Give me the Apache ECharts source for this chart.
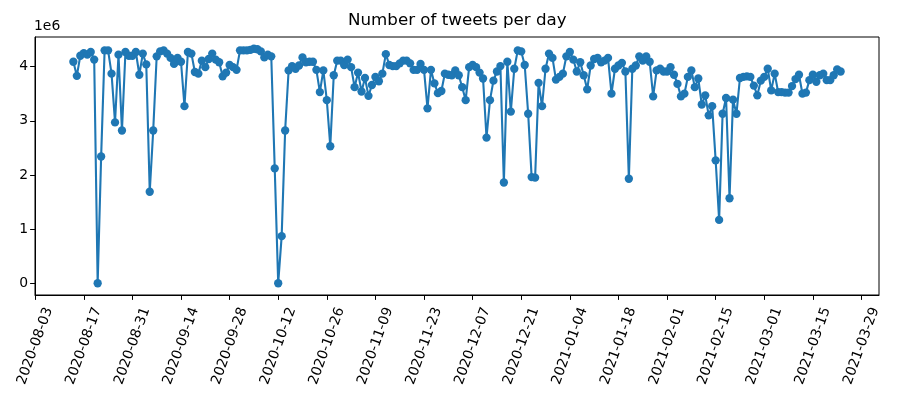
<!DOCTYPE html>
<html>
<head>
<meta charset="utf-8">
<script src="https://cdn.jsdelivr.net/npm/echarts@6/dist/echarts.min.js"></script>
<style>html,body{margin:0;padding:0;background:#fff}#c{width:900px;height:400px}</style>
</head>
<body>
<div id="c"></div>
<script>
// First data day and daily tweet counts (in millions, axis offset "1e6")
const firstDate = '2020-08-14';
const tweetsMillions = [
  4.09,3.83,4.20,4.25,4.22,4.27,4.13,0,2.34,4.30,
  4.30,3.87,2.97,4.22,2.82,4.27,4.20,4.20,4.27,3.85,
  4.24,4.04,1.69,2.82,4.19,4.28,4.30,4.24,4.16,4.05,
  4.16,4.09,3.27,4.27,4.24,3.90,3.87,4.11,3.99,4.14,
  4.24,4.13,4.08,3.82,3.89,4.03,3.99,3.94,4.30,4.30,
  4.30,4.31,4.33,4.32,4.28,4.17,4.22,4.19,2.12,0,
  0.87,2.82,3.93,4.01,3.96,4.02,4.17,4.08,4.09,4.09,
  3.94,3.53,3.93,3.38,2.53,3.84,4.11,4.11,4.03,4.13,
  3.99,3.62,3.89,3.54,3.79,3.46,3.66,3.81,3.73,3.87,
  4.23,4.03,4.01,4.01,4.06,4.11,4.11,4.06,3.94,3.94,
  4.05,3.94,3.23,3.94,3.69,3.51,3.55,3.87,3.85,3.84,
  3.93,3.84,3.62,3.38,3.99,4.03,3.99,3.89,3.78,2.69,
  3.38,3.74,3.91,4.01,1.86,4.09,3.17,3.96,4.30,4.28,
  4.03,3.13,1.96,1.95,3.70,3.27,3.96,4.24,4.16,3.76,
  3.81,3.87,4.19,4.27,4.13,3.91,4.08,3.84,3.58,4.02,
  4.14,4.16,4.08,4.11,4.16,3.50,3.96,4.02,4.07,3.91,
  1.93,3.96,4.02,4.19,4.11,4.19,4.09,3.45,3.93,3.96,
  3.91,3.91,3.99,3.85,3.68,3.45,3.50,3.81,3.93,3.62,
  3.78,3.30,3.47,3.10,3.27,2.27,1.17,3.13,3.42,1.57,
  3.39,3.13,3.79,3.81,3.82,3.81,3.65,3.47,3.74,3.81,
  3.96,3.56,3.87,3.53,3.53,3.52,3.52,3.64,3.77,3.85,
  3.50,3.52,3.75,3.85,3.72,3.84,3.87,3.75,3.75,3.84,
  3.95,3.91
];
const xTickLabels = ['2020-08-03','2020-08-17','2020-08-31','2020-09-14','2020-09-28','2020-10-12',
  '2020-10-26','2020-11-09','2020-11-23','2020-12-07','2020-12-21','2021-01-04','2021-01-18',
  '2021-02-01','2021-02-15','2021-03-01','2021-03-15','2021-03-29'];
const yTickLabels = [0,1,2,3,4];

const DAY = 86400000;
const ms = s => Date.parse(s + 'T00:00:00Z');
const origin = ms(xTickLabels[0]);
const toDay = s => (ms(s) - origin) / DAY;
const dayToLabel = d => new Date(origin + Math.round(d) * DAY).toISOString().slice(0, 10);
const d0 = toDay(firstDate);
const seriesData = tweetsMillions.map((v, i) => [d0 + i, v]);
const xTicks = xTickLabels.map(toDay);

const xFirst = d0, xLast = d0 + tweetsMillions.length - 1;
const xPad = 0.05 * (xLast - xFirst);
const yMinV = Math.min(...tweetsMillions), yMaxV = Math.max(...tweetsMillions);
const yPad = 0.05 * (yMaxV - yMinV);

const FONT = 'DejaVu Sans';
const chart = echarts.init(document.getElementById('c'), null, {renderer: 'canvas'});
chart.setOption({
  animation: false,
  backgroundColor: '#fff',
  title: {
    text: 'Number of tweets per day',
    left: 348, top: 12, padding: 0,
    textStyle: {fontFamily: FONT, fontSize: 16.7, fontWeight: 'normal', color: '#000'}
  },
  grid: {left: 35, right: 21, top: 37, bottom: 105, show: true, borderColor: '#000', borderWidth: 1, containLabel: false},
  xAxis: {
    type: 'value',
    min: xFirst - xPad, max: xLast + xPad,
    splitLine: {show: false},
    axisLine: {show: true, onZero: false, lineStyle: {color: '#000', width: 1}},
    axisTick: {show: true, length: 4.9, lineStyle: {color: '#000', width: 1}, customValues: xTicks},
    axisLabel: {
      customValues: xTicks, rotate: 70, margin: 51,
      align: 'center', verticalAlign: 'middle',
      fontFamily: FONT, fontSize: 13.9, color: '#000',
      formatter: v => dayToLabel(v)
    }
  },
  yAxis: {
    type: 'value',
    min: yMinV - yPad, max: yMaxV + yPad,
    name: '1e6', nameLocation: 'end', nameGap: 4,
    nameTextStyle: {align: 'left', verticalAlign: 'bottom', fontFamily: FONT, fontSize: 13.9, color: '#000', padding: [0, 0, 0, -1]},
    splitLine: {show: false},
    axisLine: {show: true, onZero: false, lineStyle: {color: '#000', width: 1}},
    axisTick: {show: true, length: 4.9, lineStyle: {color: '#000', width: 1}, customValues: yTickLabels},
    axisLabel: {customValues: yTickLabels, margin: 7, fontFamily: FONT, fontSize: 13.9, color: '#000', formatter: v => String(v)}
  },
  series: [{
    type: 'line',
    data: seriesData,
    showAllSymbol: true,
    symbol: 'circle',
    symbolSize: 8.3,
    itemStyle: {color: '#1f77b4'},
    lineStyle: {color: '#1f77b4', width: 2.1},
    emphasis: {disabled: true}
  }]
});
</script>
</body>
</html>
